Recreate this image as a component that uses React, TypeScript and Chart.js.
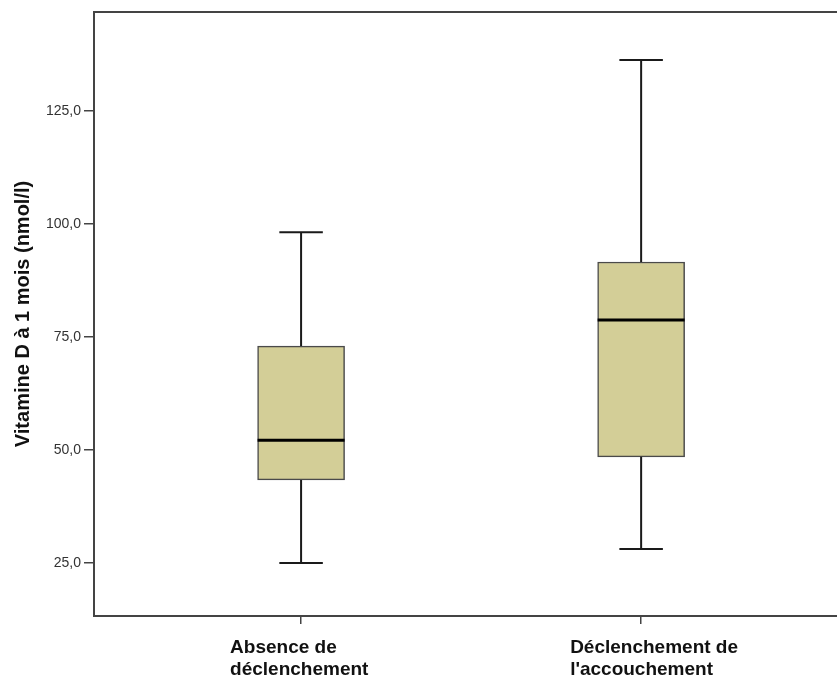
import { useEffect, useRef } from 'react';
import { Chart, registerables } from 'chart.js';

Chart.register(...registerables);

// ---- Data ----
const CATEGORIES: string[][] = [
  ['Absence de', 'déclenchement'],
  ['Déclenchement de', "l'accouchement"],
];
const POSITIONS = [1, 2];
const WHISKER_LOW = [25.0, 28.1];
const Q1 = [43.4, 48.5];
const MEDIAN = [52.2, 78.8];
const Q3 = [73.0, 91.6];
const WHISKER_HIGH = [98.2, 136.3];
const Y_TICKS = [25, 50, 75, 100, 125];
const Y_TITLE = 'Vitamine D à 1 mois (nmol/l)';

const FONT = "'Liberation Sans', Arial, Helvetica, sans-serif";
const FRAME = '#444444';

const boxPlugin = {
  id: 'boxWhiskers',
  afterDatasetsDraw(chart: any) {
    const { ctx, scales } = chart;
    const y = scales.y;
    const meta = chart.getDatasetMeta(0);
    ctx.save();
    POSITIONS.forEach((p, i) => {
      const bar = meta.data[i];
      if (!bar) return;
      const { x: cx, width } = bar.getProps(['x', 'width'], true);
      const half = width / 2;
      const capHalf = width / 4;
      const yMin = y.getPixelForValue(WHISKER_LOW[i]);
      const yQ1 = y.getPixelForValue(Q1[i]);
      const yMed = y.getPixelForValue(MEDIAN[i]);
      const yQ3 = y.getPixelForValue(Q3[i]);
      const yMax = y.getPixelForValue(WHISKER_HIGH[i]);
      ctx.strokeStyle = '#1a1a1a';
      ctx.lineWidth = 2;
      ctx.beginPath();
      ctx.moveTo(cx, yQ3);
      ctx.lineTo(cx, yMax);
      ctx.moveTo(cx - capHalf, yMax);
      ctx.lineTo(cx + capHalf, yMax);
      ctx.moveTo(cx, yQ1);
      ctx.lineTo(cx, yMin);
      ctx.moveTo(cx - capHalf, yMin);
      ctx.lineTo(cx + capHalf, yMin);
      ctx.stroke();
      ctx.strokeStyle = '#000000';
      ctx.lineWidth = 3;
      ctx.beginPath();
      ctx.moveTo(cx - half, yMed);
      ctx.lineTo(cx + half, yMed);
      ctx.stroke();
    });
    ctx.restore();
  },
  afterDraw(chart: any) {
    const { ctx, chartArea } = chart;
    ctx.save();
    ctx.strokeStyle = FRAME;
    ctx.lineWidth = 2;
    ctx.beginPath();
    ctx.moveTo(chartArea.left - 1, chartArea.top);
    ctx.lineTo(chartArea.right, chartArea.top);
    ctx.stroke();
    ctx.restore();
  },
};

export default function App() {
  const canvasRef = useRef<HTMLCanvasElement | null>(null);

  useEffect(() => {
    if (!canvasRef.current) return;
    const chart = new Chart(canvasRef.current, {
      type: 'bar',
      data: {
        datasets: [
          {
            data: POSITIONS.map((p, i) => ({ x: p, y: [Q1[i], Q3[i]] })) as any,
            backgroundColor: '#d3ce97',
            borderColor: '#4a4a4a',
            borderWidth: 1.5,
            borderSkipped: false,
            barThickness: 87,
          },
        ],
      },
      options: {
        animation: false,
        responsive: false,
        devicePixelRatio: 1,
        layout: { padding: { top: 12, left: 0, right: 0, bottom: 0 } },
        plugins: { legend: { display: false }, tooltip: { enabled: false } },
        scales: {
          x: {
            type: 'linear',
            min: 0.391,
            max: 2.576,
            offset: false,
            afterFit: (scale: any) => {
              scale.height = 63;
            },
            afterBuildTicks: (scale: any) => {
              scale.ticks = POSITIONS.map((v) => ({ value: v }));
            },
            grid: {
              display: true,
              offset: false,
              drawOnChartArea: false,
              drawTicks: true,
              tickLength: 8,
              color: FRAME,
              lineWidth: 1.5,
            },
            border: { display: true, color: FRAME, width: 2 },
            ticks: {
              autoSkip: false,
              maxRotation: 0,
              minRotation: 0,
              align: 'start',
              labelOffset: -71,
              padding: 13,
              color: '#111111',
              font: { family: FONT, size: 19, weight: 'bold', lineHeight: 1.16 },
              callback: (value: any) => {
                const idx = POSITIONS.indexOf(Number(value));
                return idx >= 0 ? CATEGORIES[idx] : '';
              },
            },
          },
          y: {
            type: 'linear',
            min: 13.3,
            max: 146.9,
            afterFit: (scale: any) => {
              scale.width = 94;
            },
            afterBuildTicks: (scale: any) => {
              scale.ticks = Y_TICKS.map((v) => ({ value: v }));
            },
            grid: {
              display: true,
              drawOnChartArea: false,
              drawTicks: true,
              tickLength: 10,
              color: FRAME,
              lineWidth: 1.5,
            },
            border: { display: true, color: FRAME, width: 2 },
            ticks: {
              padding: 3,
              color: '#333333',
              font: { family: FONT, size: 14 },
              callback: (value: any) => Number(value).toFixed(1).replace('.', ','),
            },
            title: {
              display: true,
              text: Y_TITLE,
              color: '#111111',
              padding: { top: 11, bottom: 0 },
              font: { family: FONT, size: 20, weight: 'bold', lineHeight: 1.2 },
            },
          },
        },
      },
      plugins: [boxPlugin],
    } as any);
    return () => chart.destroy();
  }, []);

  return (
    <div style={{ position: 'absolute', left: 0, top: 0, width: 837, height: 679, background: '#ffffff' }}>
      <canvas ref={canvasRef} width={837} height={679} />
    </div>
  );
}
